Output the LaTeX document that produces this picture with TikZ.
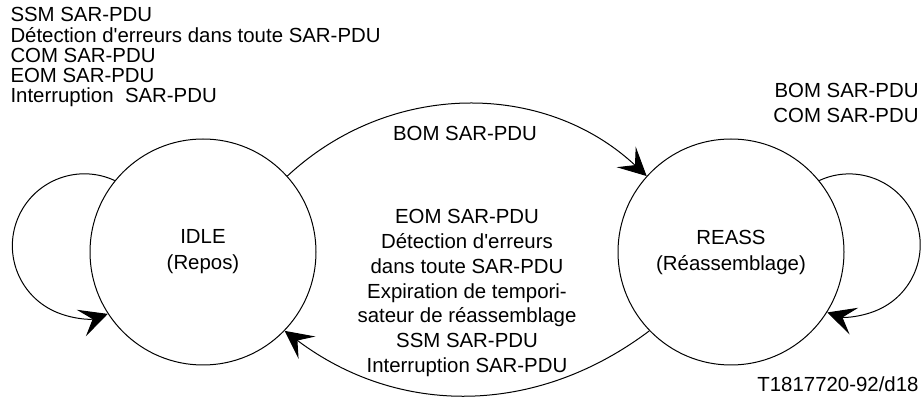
\documentclass[tikz,border=0pt]{standalone}
\usepackage{fontspec}
\setmainfont{Liberation Sans}[Ligatures=TeXOff]
\usetikzlibrary{arrows.meta}

\begin{document}
\begin{tikzpicture}[x=0.75pt,y=0.75pt,line width=0.75pt,
  state/.style={draw,circle,minimum size=169.5pt,inner sep=0pt,align=center,font=\fontsize{15.3}{19.5}\selectfont},
  lbl/.style={inner sep=0pt,font=\fontsize{15.3}{18.6}\selectfont},
  trans/.style={-{Stealth[length=21pt,width=21pt,inset=9pt]}}]
\useasboundingbox (0,0) rectangle (921,403);
% the two states
\node[state] (idle) at (203,151) {IDLE\\(Repos)};
\node[state] (reass) at (731,151) {REASS\\(Réassemblage)};
% transitions
\draw[trans] (idle.42) to[bend left=43] (reass.138);
\draw[trans] (reass.224) to[bend left=37] (idle.316);
\draw[trans] (idle.141) arc[start angle=65,end angle=289,radius=72];
\draw[trans] (reass.39) arc[start angle=115,end angle=-108,radius=71];
% events
\node[lbl,anchor=north west,align=left,font=\fontsize{15.3}{15.2}\selectfont] (idleloop) at (10,396)
  {SSM SAR-PDU\\Détection d'erreurs dans toute SAR-PDU\\COM SAR-PDU\\EOM SAR-PDU\\Interruption\ \ SAR-PDU};
\node[lbl,anchor=north east,align=right] (reassloop) at (919,320) {BOM SAR-PDU\\COM SAR-PDU};
\node[lbl] (start) at (465,270) {BOM SAR-PDU};
\node[lbl,align=center] (back) at (467,110)
  {EOM SAR-PDU\\Détection d'erreurs\\dans toute SAR-PDU\\Expiration de tempori-\\sateur de réassemblage\\SSM SAR-PDU\\Interruption SAR-PDU};
\node[lbl,anchor=base east] (ref) at (919,11) {T1817720-92/d18};
\end{tikzpicture}
\end{document}
